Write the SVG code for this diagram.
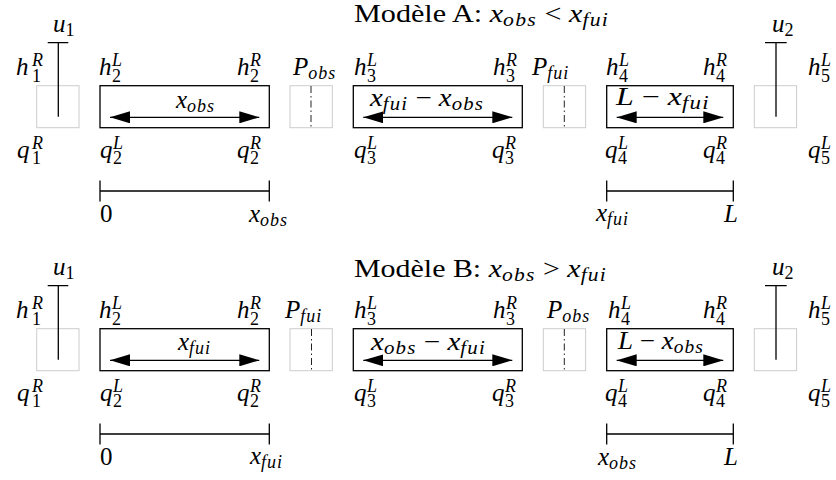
<svg xmlns="http://www.w3.org/2000/svg" width="836" height="480" viewBox="0 0 836 480" font-family="'Liberation Serif', 'DejaVu Serif', 'Times New Roman', serif">
<defs>
<style>
text{font-family:'Liberation Serif','DejaVu Serif','Times New Roman',serif;font-size:25px;fill:#000}
.i{font-style:italic}
.s{font-size:18px;letter-spacing:1px}
.cell{fill:none;stroke:#cccccc;stroke-width:1}
.box{fill:none;stroke:#000;stroke-width:1.3}
.ln{stroke:#000;stroke-width:1.3;fill:none}
.dd{stroke:#222;stroke-width:1;stroke-dasharray:7 3 1.5 3;fill:none}
.arr{stroke:#000;stroke-width:1.3;marker-start:url(#ah);marker-end:url(#ah)}
</style>
<marker id="ah" markerUnits="userSpaceOnUse" markerWidth="20" markerHeight="12" refX="20" refY="6" orient="auto-start-reverse">
<path d="M0,0 L20,6 L0,12 z" fill="#000"/>
</marker>
</defs>
<rect width="836" height="480" fill="#fff"/>

<!-- ===== Model A ===== -->
<g id="titleA"><text x="354" y="22" textLength="255" lengthAdjust="spacingAndGlyphs">Modèle A: <tspan class="i">x</tspan><tspan class="s i" dy="4">obs</tspan><tspan dy="-4"> &lt; </tspan><tspan class="i">x</tspan><tspan class="s i" dy="4">fui</tspan></text></g>

<g id="A-cell1">
<rect class="cell" x="36.7" y="85.7" width="42.3" height="42"/>
<path class="ln" d="M47.7,42.7 H68.3 M58.3,42.7 V116.7"/>
<text x="53" y="32"><tspan class="i">u</tspan><tspan class="s" dy="4">1</tspan></text>
<text x="16" y="75"><tspan class="i">h</tspan><tspan class="s i" x="32" y="66">R</tspan><tspan class="s" x="32" y="81.5">1</tspan></text>
<text x="17" y="157.5"><tspan class="i">q</tspan><tspan class="s i" x="32" y="148.5">R</tspan><tspan class="s" x="32" y="164">1</tspan></text>
</g>

<g id="A-cell2">
<rect class="box" x="100" y="85.7" width="169.3" height="42"/>
<text x="99" y="75"><tspan class="i">h</tspan><tspan class="s i" x="112" y="66">L</tspan><tspan class="s" x="112" y="81.5">2</tspan></text>
<text x="237" y="75"><tspan class="i">h</tspan><tspan class="s i" x="250" y="66">R</tspan><tspan class="s" x="250" y="81.5">2</tspan></text>
<text x="100" y="157.5"><tspan class="i">q</tspan><tspan class="s i" x="113" y="148.5">L</tspan><tspan class="s" x="113" y="164">2</tspan></text>
<text x="237" y="157.5"><tspan class="i">q</tspan><tspan class="s i" x="250" y="148.5">R</tspan><tspan class="s" x="250" y="164">2</tspan></text>
<text x="176" y="108"><tspan class="i">x</tspan><tspan class="s i" dy="4">obs</tspan></text>
</g>

<g id="A-Pobs">
<rect class="cell" x="290" y="85.7" width="42.3" height="42"/>
<path class="dd" d="M311,86 V128"/>
<text x="293" y="75"><tspan class="i">P</tspan><tspan class="s i" dy="4">obs</tspan></text>
</g>

<g id="A-cell3">
<rect class="box" x="353.3" y="85.7" width="169" height="42"/>
<text x="354" y="75"><tspan class="i">h</tspan><tspan class="s i" x="367" y="66">L</tspan><tspan class="s" x="367" y="81.5">3</tspan></text>
<text x="493" y="75"><tspan class="i">h</tspan><tspan class="s i" x="506" y="66">R</tspan><tspan class="s" x="506" y="81.5">3</tspan></text>
<text x="354" y="157.5"><tspan class="i">q</tspan><tspan class="s i" x="367" y="148.5">L</tspan><tspan class="s" x="367" y="164">3</tspan></text>
<text x="492" y="157.5"><tspan class="i">q</tspan><tspan class="s i" x="505" y="148.5">R</tspan><tspan class="s" x="505" y="164">3</tspan></text>
<text x="370" y="106" textLength="114" lengthAdjust="spacingAndGlyphs"><tspan class="i">x</tspan><tspan class="s i" dy="4">fui</tspan><tspan dy="-4"> − </tspan><tspan class="i">x</tspan><tspan class="s i" dy="4">obs</tspan></text>
</g>

<g id="A-Pfui">
<rect class="cell" x="543.3" y="85.7" width="42.3" height="42"/>
<path class="dd" d="M564.3,86 V128"/>
<text x="532" y="75"><tspan class="i">P</tspan><tspan class="s i" dy="4">fui</tspan></text>
</g>

<g id="A-cell4">
<rect class="box" x="606.7" y="85.7" width="126.6" height="42"/>
<text x="606" y="75"><tspan class="i">h</tspan><tspan class="s i" x="619" y="66">L</tspan><tspan class="s" x="619" y="81.5">4</tspan></text>
<text x="703" y="75"><tspan class="i">h</tspan><tspan class="s i" x="716" y="66">R</tspan><tspan class="s" x="716" y="81.5">4</tspan></text>
<text x="605" y="157.5"><tspan class="i">q</tspan><tspan class="s i" x="618" y="148.5">L</tspan><tspan class="s" x="618" y="164">4</tspan></text>
<text x="703" y="157.5"><tspan class="i">q</tspan><tspan class="s i" x="716" y="148.5">R</tspan><tspan class="s" x="716" y="164">4</tspan></text>
<text x="616" y="105" textLength="94" lengthAdjust="spacingAndGlyphs"><tspan class="i">L</tspan> − <tspan class="i">x</tspan><tspan class="s i" dy="4">fui</tspan></text>
</g>

<g id="A-cell5">
<rect class="cell" x="754.3" y="85.7" width="42.3" height="42"/>
<path class="ln" d="M765,42.7 H786.7 M776,42.7 V116.7"/>
<text x="772" y="32"><tspan class="i">u</tspan><tspan class="s" dy="4">2</tspan></text>
<text x="808" y="75"><tspan class="i">h</tspan><tspan class="s i" x="821" y="66">L</tspan><tspan class="s" x="821" y="81.5">5</tspan></text>
<text x="808" y="157.5"><tspan class="i">q</tspan><tspan class="s i" x="821" y="148.5">L</tspan><tspan class="s" x="821" y="164">5</tspan></text>
</g>

<g id="A-scale">
<text x="100" y="222">0</text>
<text x="249" y="222"><tspan class="i">x</tspan><tspan class="s i" dy="4">obs</tspan></text>
<text x="596" y="221"><tspan class="i">x</tspan><tspan class="s i" dy="4">fui</tspan></text>
<text x="724" y="222" class="i">L</text>
</g>

<!-- ===== Model B ===== -->
<g id="titleB"><text x="354" y="277" textLength="253" lengthAdjust="spacingAndGlyphs">Modèle B: <tspan class="i">x</tspan><tspan class="s i" dy="4">obs</tspan><tspan dy="-4"> &gt; </tspan><tspan class="i">x</tspan><tspan class="s i" dy="4">fui</tspan></text></g>

<g id="B-cell1">
<rect class="cell" x="36.7" y="328.7" width="42.3" height="42"/>
<path class="ln" d="M47.7,285.7 H68.3 M58.3,285.7 V359.7"/>
<text x="53" y="275"><tspan class="i">u</tspan><tspan class="s" dy="4">1</tspan></text>
<text x="16" y="318"><tspan class="i">h</tspan><tspan class="s i" x="32" y="309">R</tspan><tspan class="s" x="32" y="324.5">1</tspan></text>
<text x="17" y="400.5"><tspan class="i">q</tspan><tspan class="s i" x="32" y="391.5">R</tspan><tspan class="s" x="32" y="407">1</tspan></text>
</g>

<g id="B-cell2">
<rect class="box" x="100" y="328.7" width="169.3" height="42"/>
<text x="99" y="318"><tspan class="i">h</tspan><tspan class="s i" x="112" y="309">L</tspan><tspan class="s" x="112" y="324.5">2</tspan></text>
<text x="237" y="318"><tspan class="i">h</tspan><tspan class="s i" x="250" y="309">R</tspan><tspan class="s" x="250" y="324.5">2</tspan></text>
<text x="100" y="400.5"><tspan class="i">q</tspan><tspan class="s i" x="113" y="391.5">L</tspan><tspan class="s" x="113" y="407">2</tspan></text>
<text x="237" y="400.5"><tspan class="i">q</tspan><tspan class="s i" x="250" y="391.5">R</tspan><tspan class="s" x="250" y="407">2</tspan></text>
<text x="178" y="350"><tspan class="i">x</tspan><tspan class="s i" dy="4">fui</tspan></text>
</g>

<g id="B-Pfui">
<rect class="cell" x="290" y="328.7" width="42.3" height="42"/>
<path class="dd" d="M311.5,329 V371"/>
<text x="285" y="318"><tspan class="i">P</tspan><tspan class="s i" dy="4">fui</tspan></text>
</g>

<g id="B-cell3">
<rect class="box" x="353.3" y="328.7" width="169" height="42"/>
<text x="354" y="318"><tspan class="i">h</tspan><tspan class="s i" x="367" y="309">L</tspan><tspan class="s" x="367" y="324.5">3</tspan></text>
<text x="493" y="318"><tspan class="i">h</tspan><tspan class="s i" x="506" y="309">R</tspan><tspan class="s" x="506" y="324.5">3</tspan></text>
<text x="354" y="400.5"><tspan class="i">q</tspan><tspan class="s i" x="367" y="391.5">L</tspan><tspan class="s" x="367" y="407">3</tspan></text>
<text x="492" y="400.5"><tspan class="i">q</tspan><tspan class="s i" x="505" y="391.5">R</tspan><tspan class="s" x="505" y="407">3</tspan></text>
<text x="371" y="350" textLength="115" lengthAdjust="spacingAndGlyphs"><tspan class="i">x</tspan><tspan class="s i" dy="4">obs</tspan><tspan dy="-4"> − </tspan><tspan class="i">x</tspan><tspan class="s i" dy="4">fui</tspan></text>
</g>

<g id="B-Pobs">
<rect class="cell" x="543.3" y="328.7" width="42.3" height="42"/>
<path class="dd" d="M564.3,329 V371"/>
<text x="547" y="318"><tspan class="i">P</tspan><tspan class="s i" dy="4">obs</tspan></text>
</g>

<g id="B-cell4">
<rect class="box" x="606.7" y="328.7" width="126.6" height="42"/>
<text x="608" y="318"><tspan class="i">h</tspan><tspan class="s i" x="621" y="309">L</tspan><tspan class="s" x="621" y="324.5">4</tspan></text>
<text x="703" y="318"><tspan class="i">h</tspan><tspan class="s i" x="716" y="309">R</tspan><tspan class="s" x="716" y="324.5">4</tspan></text>
<text x="605" y="400.5"><tspan class="i">q</tspan><tspan class="s i" x="618" y="391.5">L</tspan><tspan class="s" x="618" y="407">4</tspan></text>
<text x="703" y="400.5"><tspan class="i">q</tspan><tspan class="s i" x="716" y="391.5">R</tspan><tspan class="s" x="716" y="407">4</tspan></text>
<text x="618" y="349" textLength="86" lengthAdjust="spacingAndGlyphs"><tspan class="i">L</tspan> − <tspan class="i">x</tspan><tspan class="s i" dy="4">obs</tspan></text>
</g>

<g id="B-cell5">
<rect class="cell" x="754.3" y="328.7" width="42.3" height="42"/>
<path class="ln" d="M765,285.7 H786.7 M776,285.7 V359.7"/>
<text x="772" y="275"><tspan class="i">u</tspan><tspan class="s" dy="4">2</tspan></text>
<text x="808" y="318"><tspan class="i">h</tspan><tspan class="s i" x="821" y="309">L</tspan><tspan class="s" x="821" y="324.5">5</tspan></text>
<text x="808" y="400.5"><tspan class="i">q</tspan><tspan class="s i" x="821" y="391.5">L</tspan><tspan class="s" x="821" y="407">5</tspan></text>
</g>

<g id="B-scale">
<text x="100" y="465">0</text>
<text x="250" y="464"><tspan class="i">x</tspan><tspan class="s i" dy="4">fui</tspan></text>
<text x="598" y="465"><tspan class="i">x</tspan><tspan class="s i" dy="4">obs</tspan></text>
<text x="724" y="465" class="i">L</text>
</g>

<!-- ===== Connectors ===== -->
<g id="connectors">
<line class="arr" x1="110" y1="117.3" x2="259.3" y2="117.3"/>
<line class="arr" x1="363.3" y1="117.3" x2="512.3" y2="117.3"/>
<line class="arr" x1="616.7" y1="117.3" x2="723.3" y2="117.3"/>
<line class="arr" x1="110" y1="360.3" x2="259.3" y2="360.3"/>
<line class="arr" x1="363.3" y1="360.3" x2="512.3" y2="360.3"/>
<line class="arr" x1="616.7" y1="360.3" x2="723.3" y2="360.3"/>
<path class="ln" d="M100,191 H269.3 M100,180.5 V201.5 M269.3,180.5 V201.5"/>
<path class="ln" d="M606.7,191 H733.3 M606.7,180.5 V201.5 M733.3,180.5 V201.5"/>
<path class="ln" d="M100,434 H269.3 M100,423.5 V444.5 M269.3,423.5 V444.5"/>
<path class="ln" d="M606.7,434 H733.3 M606.7,423.5 V444.5 M733.3,423.5 V444.5"/>
</g>
</svg>
